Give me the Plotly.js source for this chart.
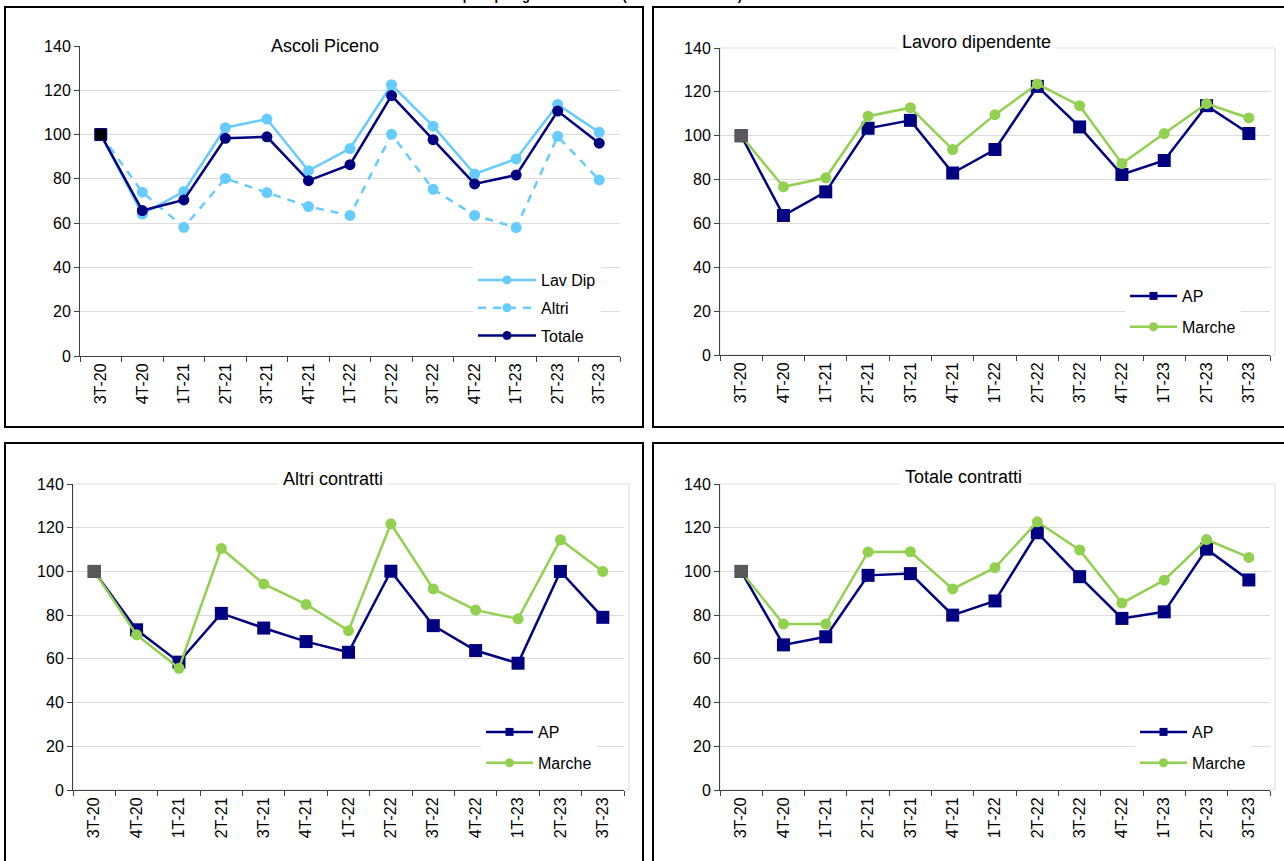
<!DOCTYPE html>
<html>
<head>
<meta charset="utf-8">
<script src="https://cdn.plot.ly/plotly-3.0.1.min.js"></script>
<style>
  html, body { margin: 0; padding: 0; background: #fff; }
  #chart { width: 1284px; height: 861px; }
</style>
</head>
<body>
<div id="chart"></div>
<script>
// ---- Data ----
const categories = ["3T-20","4T-20","1T-21","2T-21","3T-21","4T-21","1T-22","2T-22","3T-22","4T-22","1T-23","2T-23","3T-23"];

// Panel 1: Ascoli Piceno
const apLavDip = [100, 64.1, 74.3, 103.1, 107.0, 83.7, 93.7, 122.5, 103.8, 82.2, 89.0, 113.6, 101.0];
const apAltri  = [100, 74.0, 58.1, 80.2, 73.8, 67.5, 63.5, 100.1, 75.3, 63.5, 58.0, 99.2, 79.5];
const apTotale = [100, 65.7, 70.5, 98.3, 99.0, 79.2, 86.4, 117.6, 97.7, 77.7, 81.7, 110.6, 96.1];

// Panel 2: Lavoro dipendente
const ldAP     = [100, 63.6, 74.4, 103.4, 107.0, 83.0, 93.7, 122.5, 104.0, 82.3, 88.7, 113.7, 101.0];
const ldMarche = [100, 76.7, 80.8, 108.9, 112.8, 93.7, 109.6, 123.6, 113.7, 87.3, 101.0, 114.6, 108.1];

// Panel 3: Altri contratti
const acAP     = [100, 73.3, 58.5, 80.8, 74.1, 67.9, 63.0, 100.1, 75.2, 63.8, 58.0, 100.0, 79.0];
const acMarche = [100, 71.0, 55.7, 110.5, 94.3, 84.9, 72.9, 121.8, 92.0, 82.3, 78.3, 114.5, 100.0];

// Panel 4: Totale contratti
const tcAP     = [100, 66.4, 70.1, 98.2, 99.0, 80.0, 86.5, 117.7, 97.6, 78.5, 81.5, 110.2, 96.1];
const tcMarche = [100, 75.9, 75.9, 108.9, 109.0, 92.0, 101.7, 122.7, 109.8, 85.5, 96.0, 114.6, 106.4];

const panelTitles = ["Ascoli Piceno", "Lavoro dipendente", "Altri contratti", "Totale contratti"];
const headerText = "Grafico 5 – Ascoli Piceno: avviamenti al lavoro a confronto con le Marche per tipologia contrattuale (indice 3T-20 = 100)";

// ---- Styling ----
const W = 1284, H = 861;
const px = x => x / W;
const py = y => 1 - y / H;
const FONT = "Arial, 'Liberation Sans', sans-serif";
const NAVY = "#000080", GREEN = "#92D050", LBLUE = "#66CCFF", GRAYSQ = "#595959";

const panels = [
  {x0: 80, x1: 620, yTop: 46, yBot: 356},
  {x0: 720, x1: 1270, yTop: 48, yBot: 355},
  {x0: 73, x1: 624, yTop: 484, yBot: 790},
  {x0: 720, x1: 1270, yTop: 484, yBot: 790}
];

const traces = [];
function ax(i) { return i === 0 ? "" : String(i + 1); }

// series: data trace (no legend) + legend-only key with small marker
function addSeries(name, yvals, line, marker, xa, ya, lg, grp, keySize) {
  traces.push({x: categories, y: yvals, name: name, type: "scatter", mode: "lines+markers",
    line: line, marker: marker, xaxis: xa, yaxis: ya, legend: lg, legendgroup: grp, showlegend: false});
  traces.push({x: [null], y: [null], name: name, type: "scatter", mode: "lines+markers",
    line: line, marker: Object.assign({}, marker, {size: keySize}),
    xaxis: xa, yaxis: ya, legend: lg, legendgroup: grp, showlegend: true, hoverinfo: "skip"});
}

// Panel 1 traces
addSeries("Lav Dip", apLavDip, {color: LBLUE, width: 2.5}, {color: LBLUE, size: 11, symbol: "circle"}, "x", "y", "legend", "a1", 9);
addSeries("Altri", apAltri, {color: LBLUE, width: 2.5, dash: "8px,7px"}, {color: LBLUE, size: 11, symbol: "circle"}, "x", "y", "legend", "a2", 9);
addSeries("Totale", apTotale, {color: NAVY, width: 2.5}, {color: NAVY, size: 11, symbol: "circle"}, "x", "y", "legend", "a3", 9);
traces.push({x: [categories[0]], y: [apTotale[0]], type: "scatter", mode: "markers", showlegend: false,
  marker: {color: "#000000", size: 12, symbol: "square", line: {color: NAVY, width: 1}},
  xaxis: "x", yaxis: "y", hoverinfo: "skip"});

// Panels 2-4 traces
const pairs = [[ldAP, ldMarche], [acAP, acMarche], [tcAP, tcMarche]];
pairs.forEach((p, k) => {
  const i = k + 1;
  const xa = "x" + ax(i), ya = "y" + ax(i), lg = "legend" + ax(i);
  addSeries("AP", p[0], {color: NAVY, width: 2.5}, {color: NAVY, size: 13, symbol: "square"}, xa, ya, lg, "g" + i + "a", 8);
  addSeries("Marche", p[1], {color: GREEN, width: 2.5}, {color: GREEN, size: 11, symbol: "circle"}, xa, ya, lg, "g" + i + "b", 9);
  traces.push({x: [categories[0]], y: [p[0][0]], type: "scatter", mode: "markers", showlegend: false,
    marker: {color: GRAYSQ, size: 13, symbol: "square"}, xaxis: xa, yaxis: ya, hoverinfo: "skip"});
});

const layout = {
  width: W, height: H,
  margin: {l: 0, r: 0, t: 0, b: 0},
  paper_bgcolor: "#ffffff", plot_bgcolor: "rgba(0,0,0,0)",
  font: {family: FONT, size: 16, color: "#000"},
  showlegend: true,
  shapes: [], annotations: []
};

panels.forEach((p, i) => {
  const s = ax(i);
  layout["xaxis" + s] = {
    domain: [px(p.x0), px(p.x1)], anchor: "y" + s, type: "category",
    range: [-0.5, 12.5], tickangle: -90, ticks: "outside", tickson: "boundaries",
    ticklen: 5, tickcolor: "#404040", showline: true, linecolor: "#404040", linewidth: 1,
    showgrid: false, zeroline: false, tickfont: {family: FONT, size: 16, color: "#000"},
    fixedrange: true
  };
  layout["yaxis" + s] = {
    domain: [py(p.yBot), py(p.yTop)], anchor: "x" + s,
    range: [0, 140], dtick: 20, tick0: 0, ticks: "outside", ticklen: 5, tickcolor: "#404040",
    showline: true, linecolor: "#404040", linewidth: 1,
    showgrid: true, gridcolor: "#DCDCDC", gridwidth: 1, zeroline: false,
    tickfont: {family: FONT, size: 16, color: "#000"}, fixedrange: true
  };
  if (i > 0) {
    layout.shapes.push({type: "rect", xref: "paper", yref: "paper", layer: "below",
      x0: px(p.x0), x1: px(p.x1 + 5), y0: py(p.yBot), y1: py(p.yTop),
      line: {color: "#DCDCDC", width: 1}});
  }
});

// Panel borders
const borders = [
  [5, 643, 7, 427], [653, 1300, 7, 427], [5, 643, 443, 880], [653, 1300, 443, 880]
];
borders.forEach(b => layout.shapes.push({type: "rect", xref: "paper", yref: "paper",
  x0: px(b[0]), x1: px(b[1]), y0: py(b[3]), y1: py(b[2]), line: {color: "#000", width: 2}}));

// Panel titles
const titlePos = [[325, 46], [977, 42], [333, 479], [963, 477]];
panelTitles.forEach((t, i) => layout.annotations.push({
  text: t, xref: "paper", yref: "paper", x: px(titlePos[i][0]), y: py(titlePos[i][1]),
  xanchor: "center", yanchor: "middle", showarrow: false, bgcolor: "#ffffff", borderpad: 4,
  font: {family: FONT, size: 18, color: "#000"}
}));

// Header (cut off at top, as in the reference)
layout.annotations.push({
  text: "<b>" + headerText + "</b>", xref: "paper", yref: "paper", x: px(5), y: py(4),
  xanchor: "left", yanchor: "bottom", showarrow: false, borderpad: 0,
  font: {family: FONT, size: 13, color: "#000"}
});

// Legends: [x, yTop, gap, itemwidth]
const legendPos = [[473, 263, 4, 58], [1125, 279, 7, 47], [481, 715, 7, 47], [1135, 715, 7, 47]];
legendPos.forEach((l, i) => {
  layout["legend" + ax(i)] = {
    x: px(l[0]), y: py(l[1]), xanchor: "left", yanchor: "top",
    bgcolor: "#ffffff", borderwidth: 0, traceorder: "grouped", tracegroupgap: l[2],
    itemwidth: l[3],
    font: {family: FONT, size: 16, color: "#000"}, itemsizing: "trace"
  };
});

Plotly.newPlot("chart", traces, layout, {displayModeBar: false, staticPlot: true});
</script>
</body>
</html>
